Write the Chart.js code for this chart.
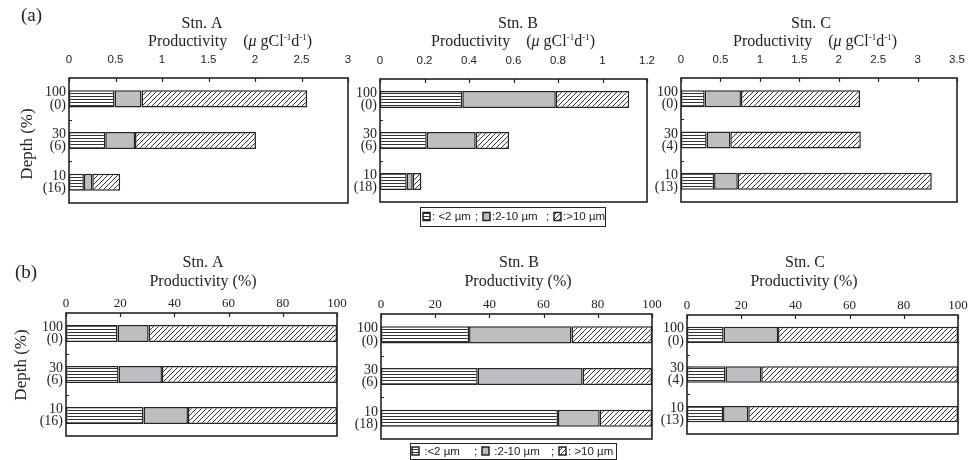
<!DOCTYPE html>
<html>
<head>
<meta charset="utf-8">
<script src="https://cdn.jsdelivr.net/npm/chart.js@4/dist/chart.umd.min.js"></script>
<style>
  html, body { margin: 0; padding: 0; background: #fff; }
  body { width: 973px; height: 460px; position: relative; overflow: hidden; }
  canvas { position: absolute; }
</style>
</head>
<body>
<script>
// ============================================
// Size-fractionated productivity, Stn. A / B / C
// (a) absolute values, (b) percent of total
// ============================================

// Size classes (stack order, left to right)
const sizeClasses = ['<2 µm', '2-10 µm', '>10 µm'];

// Depth labels: light level (%) and depth in m
const depthA = [['100', '(0)'], ['30', '(6)'], ['10', '(16)']];
const depthB = [['100', '(0)'], ['30', '(6)'], ['10', '(18)']];
const depthC = [['100', '(0)'], ['30', '(4)'], ['10', '(13)']];

// (a) Productivity, µgC l-1 d-1
const absA_small = [0.49, 0.39, 0.16];
const absA_mid   = [0.29, 0.32, 0.09];
const absA_large = [1.78, 1.30, 0.30];

const absB_small = [0.37, 0.21, 0.12];
const absB_mid   = [0.42, 0.22, 0.027];
const absB_large = [0.33, 0.15, 0.039];

const absC_small = [0.30, 0.325, 0.42];
const absC_mid   = [0.46, 0.30, 0.30];
const absC_large = [1.51, 1.655, 2.46];

// (b) Productivity, % of total
const pctA_small = [19.0, 19.4, 28.6];
const pctA_mid   = [11.5, 16.0, 16.4];
const pctA_large = [69.5, 64.6, 55.0];

const pctB_small = [32.5, 35.7, 65.3];
const pctB_mid   = [37.8, 38.7, 15.4];
const pctB_large = [29.7, 25.6, 19.3];

const pctC_small = [13.5, 14.2, 13.3];
const pctC_mid   = [20.1, 13.2, 9.3];
const pctC_large = [66.4, 72.6, 77.4];

// Axis ranges
const absMaxA = 3,   absStepA = 0.5;
const absMaxB = 1.2, absStepB = 0.2;
const absMaxC = 3.5, absStepC = 0.5;
const pctMax = 100,  pctStep = 20;

const SERIF = "'Liberation Serif', 'Times New Roman', serif";
const SANS = "'Liberation Sans', Arial, sans-serif";
const INK = '#232323';
const GRAY = '#bdbec1';

// ---- fill patterns ----
function makePattern(w, h, draw) {
  const c = document.createElement('canvas');
  c.width = w; c.height = h;
  const g = c.getContext('2d');
  g.fillStyle = '#fff';
  g.fillRect(0, 0, w, h);
  g.strokeStyle = '#333';
  g.lineWidth = 1;
  draw(g, w, h);
  return g.createPattern(c, 'repeat');
}
const stripes = makePattern(8, 3, (g, w) => {
  g.beginPath(); g.moveTo(0, 0.5); g.lineTo(w, 0.5); g.stroke();
});
const hatch = makePattern(5, 5, (g, w, h) => {
  g.beginPath();
  g.moveTo(-1, h + 1); g.lineTo(w + 1, -1);
  g.moveTo(-1, 1); g.lineTo(1, -1);
  g.moveTo(w - 1, h + 1); g.lineTo(w + 1, h - 1);
  g.stroke();
});
const FILLS = [stripes, GRAY, hatch];

// ---- text helper ----
function drawRich(ctx, parts, cx, cy) {
  let total = 0;
  parts.forEach(p => { ctx.font = p.font; p.w = ctx.measureText(p.text).width; total += p.w; });
  let x = cx - total / 2;
  ctx.textAlign = 'left';
  ctx.textBaseline = 'middle';
  parts.forEach(p => { ctx.font = p.font; ctx.fillText(p.text, x, cy + (p.dy || 0)); x += p.w; });
}

function unitParts(unit) {
  const f = '16px ' + SERIF;
  if (unit === 'pct') return [{ text: 'Productivity (%)', font: f }];
  const sup = '9px ' + SERIF;
  return [
    { text: 'Productivity    (', font: f },
    { text: 'μ', font: 'italic 16px ' + SERIF },
    { text: ' gCl', font: f },
    { text: '-1', font: sup, dy: -4 },
    { text: 'd', font: f },
    { text: '-1', font: sup, dy: -4 },
    { text: ')', font: f }
  ];
}

// ---- plugin: box, inner ticks, headers, legend ----
const framePlugin = {
  id: 'frame',
  afterDatasetsDraw(chart) {
    const { ctx, chartArea: a, scales } = chart;
    ctx.save();
    ctx.strokeStyle = INK;
    ctx.lineWidth = 1.6;
    ctx.strokeRect(a.left, a.top, a.right - a.left, a.bottom - a.top);
    ctx.lineWidth = 1.2;
    ctx.beginPath();
    scales.x.ticks.forEach(t => {
      const x = Math.round(scales.x.getPixelForValue(t.value)) + 0.5;
      ctx.moveTo(x, a.top); ctx.lineTo(x, a.top + 4);
    });
    const n = chart.data.labels.length;
    for (let i = 0; i < n - 1; i++) {
      const y = Math.round((scales.y.getPixelForTick(i) + scales.y.getPixelForTick(i + 1)) / 2) + 0.5;
      ctx.moveTo(a.left, y); ctx.lineTo(a.left + 3, y);
    }
    ctx.stroke();
    ctx.restore();
  },
  afterDraw(chart, args, o) {
    const { ctx } = chart;
    ctx.save();
    ctx.fillStyle = INK;
    // station + productivity header
    ctx.font = '16px ' + SERIF;
    ctx.textAlign = 'center';
    ctx.textBaseline = 'middle';
    ctx.fillText(o.station, o.stnX, o.stnY);
    drawRich(ctx, unitParts(o.unit), o.prodX, o.prodY);
    // panel tag + depth axis title
    if (o.tag) {
      ctx.font = '19px ' + SERIF;
      ctx.textAlign = 'left';
      ctx.fillText(o.tag, o.tagX, o.tagY);
    }
    if (o.depth) {
      ctx.save();
      ctx.translate(o.depthX, o.depthY);
      ctx.rotate(-Math.PI / 2);
      ctx.font = '17px ' + SERIF;
      ctx.textAlign = 'center';
      ctx.fillText('Depth (%)', 0, 0);
      ctx.restore();
    }
    if (o.legend) drawLegend(chart, o.legend);
    ctx.restore();
  }
};

// legend row: pattern chip + label, items placed at the given offsets
function drawLegend(chart, lg) {
  const { ctx } = chart;
  ctx.font = '11.5px ' + SANS;
  ctx.textBaseline = 'middle';
  ctx.textAlign = 'left';
  const cy = lg.y + lg.h / 2;
  chart.data.datasets.forEach((ds, i) => {
    const x = lg.x + lg.offsets[i];
    ctx.fillStyle = ds.backgroundColor;
    ctx.fillRect(x, cy - 4, 7, 8);
    ctx.strokeStyle = INK;
    ctx.lineWidth = 1.5;
    ctx.strokeRect(x, cy - 4, 7, 8);
    ctx.fillStyle = INK;
    ctx.fillText(lg.prefix[i] + ds.label, x + 9, cy + 0.5);
    if (i > 0) ctx.fillText(';', x - 8, cy + 0.5);
  });
  ctx.strokeStyle = INK;
  ctx.lineWidth = 1;
  ctx.strokeRect(lg.x + 0.5, lg.y + 0.5, lg.w, lg.h);
}

// ---- panel builder ----
const LABEL_W = 66, AXIS_H = 34, ROW_H = 230, RIGHT_PAD = 16;

function fmt(v) { return String(+v.toFixed(2)); }

function makePanel(p) {
  const cl = p.box.l - LABEL_W;
  const ct = p.rowTop;
  const canvas = document.createElement('canvas');
  canvas.width = p.box.r - cl + RIGHT_PAD;
  canvas.height = ROW_H;
  canvas.style.left = cl + 'px';
  canvas.style.top = ct + 'px';
  document.body.appendChild(canvas);

  const pctRow = p.unit === 'pct';
  const h = p.header;
  const opts = {
    station: h.station, unit: p.unit,
    stnX: h.stnX - cl, stnY: h.stnY - ct,
    prodX: h.prodX - cl, prodY: h.prodY - ct
  };
  if (p.tag) Object.assign(opts, { tag: p.tag.text, tagX: p.tag.x - cl, tagY: p.tag.y - ct });
  if (p.depth) Object.assign(opts, { depth: true, depthX: p.depth.x - cl, depthY: p.depth.y - ct });
  if (p.legend) opts.legend = Object.assign({}, p.legend, { x: p.legend.x - cl, y: p.legend.y - ct });

  new Chart(canvas, {
    type: 'bar',
    data: {
      labels: p.labels,
      datasets: sizeClasses.map((name, i) => ({
        label: name,
        data: p.series[i],
        backgroundColor: FILLS[i],
        borderColor: INK,
        borderWidth: 1.5,
        borderSkipped: false,
        barPercentage: 0.41,
        categoryPercentage: 1
      }))
    },
    options: {
      indexAxis: 'y',
      responsive: false,
      animation: false,
      events: [],
      layout: {
        padding: {
          left: 0,
          top: p.box.t - ct - AXIS_H,
          right: RIGHT_PAD,
          bottom: ct + ROW_H - p.box.b
        }
      },
      plugins: {
        legend: { display: false },
        tooltip: { enabled: false },
        frame: opts
      },
      scales: {
        x: {
          position: 'top',
          stacked: true,
          min: 0,
          max: p.max,
          grid: { display: false, drawTicks: false },
          border: { display: false },
          ticks: {
            stepSize: p.step,
            autoSkip: false,
            maxRotation: 0,
            padding: pctRow ? 2 : 11,
            color: INK,
            font: pctRow ? { family: SERIF, size: 13 } : { family: SANS, size: 11.5 },
            callback: v => fmt(v)
          },
          afterFit: s => { s.height = AXIS_H; }
        },
        y: {
          stacked: true,
          grid: { display: false, drawTicks: false },
          border: { display: false },
          ticks: {
            padding: 3,
            color: INK,
            font: { family: SERIF, size: 14, lineHeight: 0.88 }
          },
          afterFit: s => { s.width = LABEL_W; }
        }
      }
    },
    plugins: [framePlugin]
  });
}

// ---- (a) row ----
makePanel({
  rowTop: 0, box: { l: 69, t: 78, r: 348, b: 203 }, unit: 'abs',
  max: absMaxA, step: absStepA, labels: depthA,
  series: [absA_small, absA_mid, absA_large],
  header: { station: 'Stn. A', stnX: 202, stnY: 24, prodX: 230, prodY: 42 },
  tag: { text: '(a)', x: 21, y: 16 },
  depth: { x: 28, y: 144 }
});
makePanel({
  rowTop: 0, box: { l: 380, t: 79, r: 650, b: 202 }, unit: 'abs',
  max: absMaxB, step: absStepB, labels: depthB,
  series: [absB_small, absB_mid, absB_large],
  header: { station: 'Stn. B', stnX: 518, stnY: 24, prodX: 513, prodY: 42 },
  legend: { x: 420, y: 207, w: 185, h: 19, offsets: [3, 63, 134], prefix: [': ', ':', ':'] }
});
makePanel({
  rowTop: 0, box: { l: 681, t: 78, r: 960, b: 202 }, unit: 'abs',
  max: absMaxC, step: absStepC, labels: depthC,
  series: [absC_small, absC_mid, absC_large],
  header: { station: 'Stn. C', stnX: 811, stnY: 24, prodX: 815, prodY: 42 }
});

// ---- (b) row ----
makePanel({
  rowTop: 230, box: { l: 66, t: 313, r: 337, b: 436 }, unit: 'pct',
  max: pctMax, step: pctStep, labels: depthA,
  series: [pctA_small, pctA_mid, pctA_large],
  header: { station: 'Stn. A', stnX: 203, stnY: 263, prodX: 203, prodY: 282 },
  tag: { text: '(b)', x: 15, y: 273 },
  depth: { x: 22, y: 365 }
});
makePanel({
  rowTop: 230, box: { l: 381, t: 314, r: 652, b: 439 }, unit: 'pct',
  max: pctMax, step: pctStep, labels: depthB,
  series: [pctB_small, pctB_mid, pctB_large],
  header: { station: 'Stn. B', stnX: 519, stnY: 263, prodX: 518, prodY: 282 },
  legend: { x: 410, y: 443, w: 206, h: 16, offsets: [2, 72, 149], prefix: [' :', ' :', ': '] }
});
makePanel({
  rowTop: 230, box: { l: 687, t: 315, r: 958, b: 434 }, unit: 'pct',
  max: pctMax, step: pctStep, labels: depthC,
  series: [pctC_small, pctC_mid, pctC_large],
  header: { station: 'Stn. C', stnX: 805, stnY: 263, prodX: 804, prodY: 282 }
});
</script>
</body>
</html>
